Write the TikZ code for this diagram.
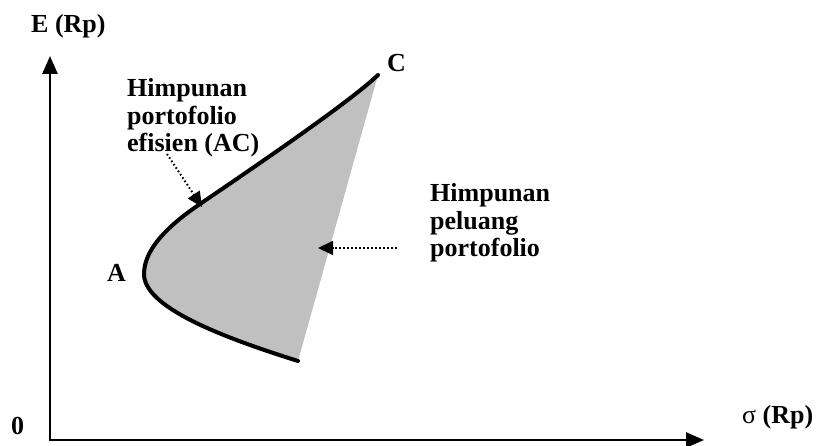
\documentclass[tikz,border=0pt]{standalone}
\usepackage{fontspec}
\setmainfont{Liberation Serif}
\usetikzlibrary{arrows.meta}
\begin{document}
\begin{tikzpicture}[x=1pt,y=-1pt,
  lbl/.style={inner sep=0pt,anchor=base west,font=\fontsize{26}{29}\selectfont\bfseries},
  axis/.style={line width=2.7pt,-{Triangle[length=18pt,width=15pt]}},
  dotarrow/.style={line width=2pt,dash pattern=on 1.6pt off 2.4pt,-{Triangle[length=15pt,width=14pt]}},
  frontier/.style={line width=4pt,line cap=round}]
\useasboundingbox (0,0) rectangle (817,446);
\definecolor{regiongray}{RGB}{192,192,192}
% axes
\coordinate (O) at (50,440);
\coordinate (Ytip) at (50,56);
\coordinate (Xtip) at (704,440);
\draw[axis] ([yshift=1.35pt]O) -- (Ytip);
\draw[axis] ([xshift=-1.35pt]O) -- (Xtip);
% curve points
\coordinate (B) at (298,361);
\coordinate (A) at (144,274);
\coordinate (P) at (200,204);
\coordinate (C) at (378,75);
\fill[regiongray] (B) .. controls (215,335) and (144,306) .. (A)
  .. controls (144,246) and (175,221) .. (P)
  .. controls (250,170) and (350,102) .. (C) -- cycle;
\draw[frontier] (B) .. controls (215,335) and (144,306) .. (A)
  .. controls (144,246) and (175,221) .. (P)
  .. controls (250,170) and (350,102) .. (C);
% labels
\node[lbl] (ylab) at (31,33) {E (Rp)};
\node[lbl] (zero) at (11,435) {0};
\node[lbl] (xlab) at (742,423) {{\mdseries σ} (Rp)};
\node[lbl] (Clab) at (387,72) {C};
\node[lbl] (Alab) at (107,282) {A};
\node[lbl] (e1) at (127,97) {Himpunan};
\node[lbl] (e2) at (127,124.5) {portofolio};
\node[lbl] (e3) at (127,152) {efisien (AC)};
\node[lbl] (p1) at (430,202) {Himpunan};
\node[lbl] (p2) at (430,229.5) {peluang};
\node[lbl] (p3) at (430,257) {portofolio};
% dotted arrows
\coordinate (s1) at (167,154);
\coordinate (t1) at (202,207);
\draw[dotarrow] (s1) -- (t1);
\coordinate (s2) at (397,248);
\coordinate (t2) at (318,248);
\draw[dotarrow] (s2) -- (t2);
\end{tikzpicture}
\end{document}
